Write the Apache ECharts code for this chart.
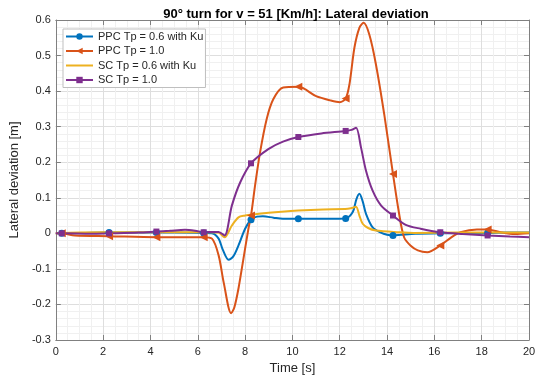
<!DOCTYPE html>
<html>
<head>
<meta charset="utf-8">
<script src="https://cdn.jsdelivr.net/npm/echarts@6/dist/echarts.min.js"></script>
<style>html,body{margin:0;padding:0;background:#fff}#c{width:540px;height:380px}</style>
</head>
<body>
<div id="c"></div>
<script>
// ---- data ----
const titleText = '90° turn for v = 51 [Km/h]: Lateral deviation';
const xName = 'Time [s]';
const yName = 'Lateral deviation [m]';
const seriesNames = ['PPC Tp = 0.6 with Ku', 'PPC Tp = 1.0', 'SC Tp = 0.6 with Ku', 'SC Tp = 1.0'];
const markerTimes = [0.25, 2.25, 4.25, 6.25, 8.25, 10.25, 12.25, 14.25, 16.25, 18.25];

const tPPC06 = [0, 0.25, 1, 2.25, 3, 4.25, 5, 6.25, 6.6, 6.88, 7.05, 7.3, 7.5, 7.72, 8.0, 8.25, 8.5, 8.75, 9.2, 9.6, 10.25, 11.2, 12.0, 12.25, 12.55, 12.7, 12.83, 12.97, 13.11, 13.39, 13.74, 14.0, 14.25, 14.6, 15.2, 16.25, 17, 18.25, 19, 20];
const vPPC06 = [0, 0, 0.001, 0.002, 0.002, 0.002, 0.002, 0.001, 0, -0.015, -0.045, -0.074, -0.065, -0.034, 0.013, 0.038, 0.047, 0.048, 0.044, 0.041, 0.041, 0.041, 0.041, 0.042, 0.06, 0.095, 0.111, 0.09, 0.055, 0.017, 0.002, -0.004, -0.006, -0.004, -0.001, 0, 0.001, 0.001, 0.002, 0.002];

const tPPC10 = [0, 0.25, 0.8, 2.25, 4.25, 6.25, 6.6, 6.88, 7.1, 7.41, 7.55, 7.72, 7.93, 8.14, 8.25, 8.42, 8.63, 8.91, 9.19, 9.61, 10.25, 11.0, 11.6, 12.0, 12.25, 12.41, 12.62, 12.83, 13.01, 13.25, 13.53, 13.88, 14.25, 14.51, 14.72, 15.0, 15.3, 15.7, 16.25, 16.7, 17.1, 17.8, 18.25, 18.8, 19.4, 20];
const vPPC10 = [0, 0, -0.006, -0.008, -0.011, -0.011, -0.015, -0.062, -0.14, -0.225, -0.207, -0.155, -0.071, 0.013, 0.05, 0.134, 0.227, 0.321, 0.377, 0.41, 0.412, 0.386, 0.374, 0.369, 0.379, 0.419, 0.522, 0.578, 0.592, 0.559, 0.475, 0.335, 0.167, 0.055, -0.011, -0.035, -0.048, -0.053, -0.034, -0.012, 0.003, 0.011, 0.011, 0.003, -0.002, 0];

const tSC06 = [0, 1, 3, 5, 6.5, 6.88, 7.13, 7.44, 7.72, 8.0, 8.28, 9.0, 9.54, 10.25, 11.3, 12.34, 12.55, 12.69, 12.83, 12.97, 13.2, 13.53, 14.5, 15.14, 17, 20];
const vSC06 = [0, 0.002, 0.003, 0.003, 0.003, 0.002, -0.011, 0.022, 0.045, 0.05, 0.053, 0.058, 0.061, 0.064, 0.067, 0.069, 0.072, 0.075, 0.05, 0.027, 0.015, 0.008, 0.003, 0.001, 0.002, 0.002];

const tSC10 = [0, 0.25, 1.5, 2.25, 3.5, 4.25, 4.8, 5.46, 6.0, 6.25, 6.6, 6.88, 7.13, 7.44, 7.79, 8.25, 8.98, 9.6, 10.25, 11.22, 12.25, 12.5, 12.69, 12.9, 13.11, 13.39, 13.75, 14.25, 14.79, 15.42, 16.25, 17.2, 18.25, 19.2, 20];
const vSC10 = [0, 0, -0.001, 0, 0.002, 0.005, 0.007, 0.01, 0.006, 0.003, 0.004, 0.004, -0.006, 0.078, 0.143, 0.197, 0.237, 0.258, 0.271, 0.281, 0.288, 0.291, 0.297, 0.241, 0.176, 0.12, 0.078, 0.05, 0.024, 0.013, 0.003, -0.002, -0.006, -0.009, -0.011];

const colors = ['#0072BD', '#D95319', '#EDB120', '#7E2F8E'];

function build(ts, vs, withMarkers) {
  return ts.map((t, i) => {
    const item = { value: [t, vs[i]] };
    if (!withMarkers || markerTimes.indexOf(t) < 0) item.symbol = 'none';
    return item;
  });
}

const chart = echarts.init(document.getElementById('c'), null, { renderer: 'canvas' });
const txt = '#262626';
const font = 'Liberation Sans, Arial, Helvetica, sans-serif';
const common = { type: 'line', smooth: 0.3, showAllSymbol: true, z: 3 };

const gridL = 53, gridR = 11, gridT = 20, gridB = 39;

const axisLine = { show: true, onZero: false, lineStyle: { color: '#808080', width: 1 } };
const axisTick = { show: true, inside: true, length: 5, lineStyle: { color: '#808080' } };

chart.setOption({
  backgroundColor: '#ffffff',
  animation: false,
  title: {
    text: titleText, left: (gridL + 540 - gridR) / 2, textAlign: 'center', top: 3,
    textStyle: { fontFamily: font, fontSize: 13, fontWeight: 'bold', color: '#000' }
  },
  grid: { left: gridL, right: gridR, top: gridT, bottom: gridB, containLabel: false },
  legend: {
    data: [
      { name: seriesNames[0] },
      { name: seriesNames[1] },
      { name: seriesNames[2], itemStyle: { opacity: 0 } },
      { name: seriesNames[3] }
    ],
    left: 63, top: 29, orient: 'vertical',
    itemWidth: 27, itemHeight: 8, itemGap: 1.5,
    padding: [1, 2, 1, 2],
    backgroundColor: '#ffffff', borderColor: '#bfbfbf', borderWidth: 1,
    textStyle: { fontFamily: font, fontSize: 11, color: txt, lineHeight: 13 }
  },
  xAxis: [
    {
      type: 'value', min: 0, max: 20, interval: 2, position: 'bottom',
      name: xName, nameLocation: 'middle', nameGap: 22,
      nameTextStyle: { fontFamily: font, fontSize: 13, color: txt },
      axisLabel: { fontFamily: font, fontSize: 11, color: txt, margin: 6 },
      axisLine: axisLine, axisTick: axisTick,
      splitLine: { show: true, lineStyle: { color: '#dedede', width: 1 } },
      minorSplitLine: { show: true, lineStyle: { color: '#f0f0f0', width: 1 } },
      minorTick: { show: false, splitNumber: 4 }
    },
    {
      type: 'value', min: 0, max: 20, interval: 2, position: 'top',
      axisLabel: { show: false }, splitLine: { show: false },
      axisLine: axisLine, axisTick: axisTick
    }
  ],
  yAxis: [
    {
      type: 'value', min: -0.3, max: 0.6, interval: 0.1, position: 'left',
      name: yName, nameLocation: 'middle', nameGap: 31,
      nameTextStyle: { fontFamily: font, fontSize: 13, color: txt },
      axisLabel: { fontFamily: font, fontSize: 11, color: txt, margin: 5,
        formatter: v => String(Math.round(v * 10) / 10) },
      axisLine: axisLine, axisTick: axisTick,
      splitLine: { show: true, lineStyle: { color: '#dedede', width: 1 } },
      minorSplitLine: { show: true, lineStyle: { color: '#f0f0f0', width: 1 } },
      minorTick: { show: false, splitNumber: 5 }
    },
    {
      type: 'value', min: -0.3, max: 0.6, interval: 0.1, position: 'right',
      axisLabel: { show: false }, splitLine: { show: false },
      axisLine: axisLine, axisTick: axisTick
    }
  ],
  series: [
    Object.assign({}, common, {
      name: seriesNames[0], data: build(tPPC06, vPPC06, true), color: colors[0],
      symbol: 'circle', symbolSize: 7, lineStyle: { width: 2 }
    }),
    Object.assign({}, common, {
      name: seriesNames[1], data: build(tPPC10, vPPC10, true), color: colors[1],
      symbol: 'triangle', symbolSize: 8, symbolRotate: 90, lineStyle: { width: 2 }
    }),
    Object.assign({}, common, {
      name: seriesNames[2], data: build(tSC06, vSC06, false), color: colors[2],
      symbol: 'none', lineStyle: { width: 2 }
    }),
    Object.assign({}, common, {
      name: seriesNames[3], data: build(tSC10, vSC10, true), color: colors[3],
      symbol: 'rect', symbolSize: 6, lineStyle: { width: 2 }
    })
  ]
});
</script>
</body>
</html>
